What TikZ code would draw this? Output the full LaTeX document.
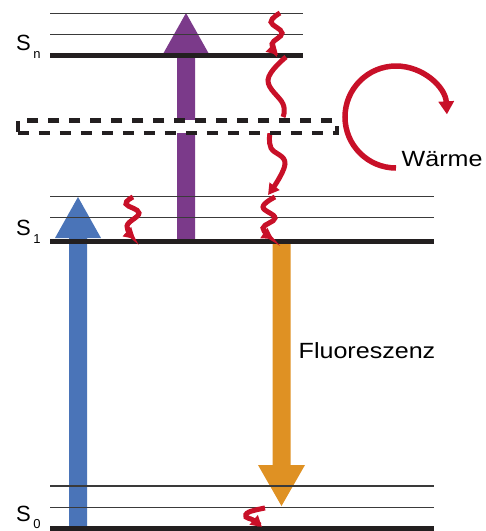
\documentclass[tikz,border=0pt]{standalone}
\usepackage{fontspec}
\setmainfont{Liberation Sans}
\usetikzlibrary{arrows.meta,calc}

\definecolor{levelcol}{HTML}{231F20}
\definecolor{thincol}{HTML}{3A3A3A}
\definecolor{abscol}{HTML}{4A74B8}
\definecolor{exccol}{HTML}{7B3A8A}
\definecolor{fluocol}{HTML}{DF9123}
\definecolor{heatcol}{HTML}{C81028}

\tikzset{
  thinlevel/.style={draw=thincol, line width=1.2pt},
  thicklevel/.style={draw=levelcol, line width=4.8pt},
  relax/.style={draw=heatcol, line width=5pt, line cap=butt,
    -{Triangle[length=11pt,width=12pt]}},
  relaxplain/.style={draw=heatcol, line width=5pt},
  statelabel/.style={font=\fontsize{22}{24}\selectfont, anchor=base west, inner sep=0pt},
  biglabel/.style={font=\fontsize{22}{24}\selectfont, anchor=base west, inner sep=0pt},
}

% wide filled arrow: colour, base, tip, shaft half-width, head half-width, head length
\newcommand{\fatarrow}[6]{%
  \fill[#1] ($(#2)+(-#4,0)$) -- ($(#3)+(-#4,#6)$) -- ($(#3)+(-#5,#6)$) -- (#3)
    -- ($(#3)+(#5,#6)$) -- ($(#3)+(#4,#6)$) -- ($(#2)+(#4,0)$) -- cycle;}
\newcommand{\fatarrowdown}[6]{%
  \fill[#1] ($(#2)+(-#4,0)$) -- ($(#3)+(-#4,-#6)$) -- ($(#3)+(-#5,-#6)$) -- (#3)
    -- ($(#3)+(#5,-#6)$) -- ($(#3)+(#4,-#6)$) -- ($(#2)+(#4,0)$) -- cycle;}

\begin{document}
\begin{tikzpicture}[x=1pt,y=-1pt]
\useasboundingbox (0,0) rectangle (486,531);

% arrow end points
\coordinate (absbot) at (78,528);
\coordinate (abstop) at (78,197);
\coordinate (excbot) at (186,241);
\coordinate (exctop) at (186,13);
\coordinate (fluotop) at (281.5,241);
\coordinate (fluobot) at (281.5,506);

% absorption, excitation and fluorescence arrows
\fatarrow{abscol}{absbot}{abstop}{9}{23}{41}
\fatarrow{exccol}{excbot}{exctop}{9}{23}{41}
\fatarrowdown{fluocol}{fluotop}{fluobot}{9}{23.5}{41}

% vibrational levels
\draw[thinlevel] (50,13.3) -- (303,13.3);
\draw[thinlevel] (50,34.3) -- (303,34.3);
\draw[thicklevel] (50,55.7) -- (303,55.7);

\draw[thinlevel] (50,196.7) -- (434,196.7);
\draw[thinlevel] (50,217.7) -- (434,217.7);
\draw[thicklevel] (50,241.5) -- (434,241.5);

\draw[thinlevel] (50,486) -- (434,486);
\draw[thinlevel] (50,507.5) -- (434,507.5);
\draw[thicklevel] (50,528.8) -- (434,528.8);

% radiationless relaxation
\draw[relax] plot[smooth, tension=0.7] coordinates {(280,13) (271,22) (282,33) (272,44) (278,55)};
\draw[relaxplain] plot[smooth, tension=0.7] coordinates {(286,57) (268,80) (283,104) (283,117)};
\draw[relax] plot[smooth, tension=0.7] coordinates {(270,133) (271,148) (285,164) (268,195)};
\draw[relax] plot[smooth, tension=0.7] coordinates {(275,197) (263,207) (275,218) (263,228) (273,239)};
\draw[relax] plot[smooth, tension=0.7] coordinates {(133,197) (126,204) (139,213) (127,226) (135,239)};
\draw[relax] plot[smooth, tension=0.7] coordinates {(265,508) (249,512) (246,517) (253,520) (262,527)};

% intersystem region
\node[draw=levelcol, line width=4.8pt, dash pattern=on 11pt off 10pt, fill=white,
      minimum width=319pt, minimum height=12.5pt, inner sep=0pt, anchor=north west]
  (isc) at (15.5,118) {};

% heat
\coordinate (heatstart) at (396,168);
\draw[draw=heatcol, line width=5.5pt, -{Triangle[length=13pt,width=15pt]}]
  (heatstart) arc[start angle=90, end angle=357, radius=51];

% labels
\node[statelabel] (sn) at (16,50) {S\hspace{2.5pt}\raisebox{-8pt}{\fontsize{13}{13}\selectfont n}};
\node[statelabel] (s1) at (16,235.5) {S\hspace{2.5pt}\raisebox{-8pt}{\fontsize{13}{13}\selectfont 1}};
\node[statelabel] (s0) at (16,521) {S\hspace{2.5pt}\raisebox{-7pt}{\fontsize{13}{13}\selectfont 0}};

\node[biglabel] (fluo) at (298.5,358) {\scalebox{1.14}[1]{Fluoreszenz}};
\node[biglabel] (heat) at (401.5,166) {\scalebox{1.14}[1]{Wärme}};
\end{tikzpicture}
\end{document}
